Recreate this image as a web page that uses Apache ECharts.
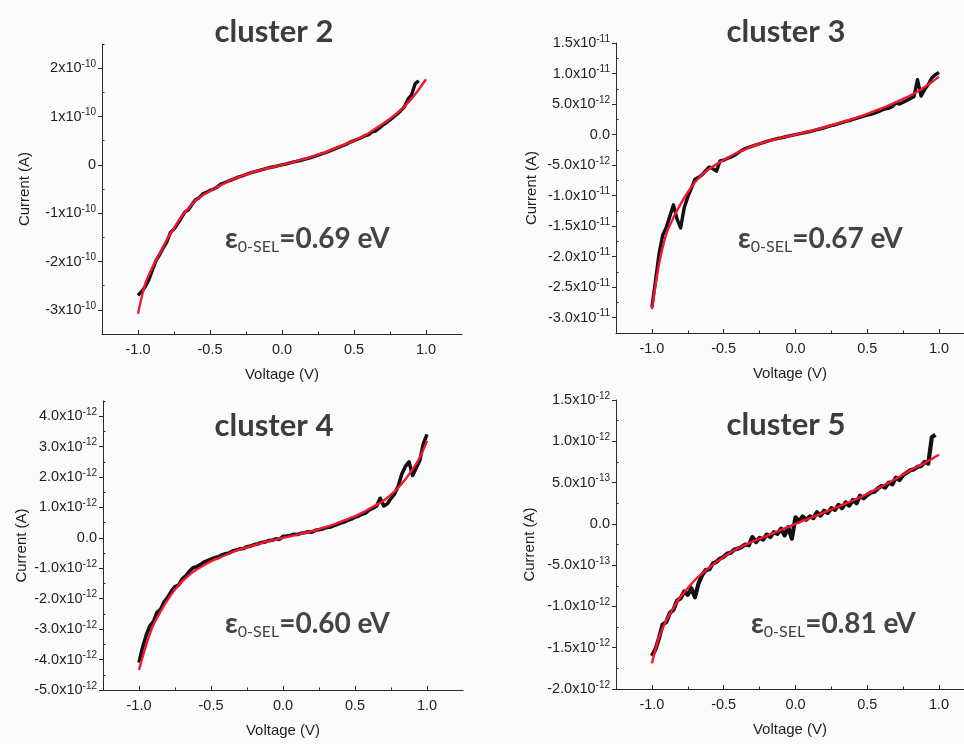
<!DOCTYPE html>
<html><head><meta charset="utf-8">
<script src="https://cdn.jsdelivr.net/npm/echarts@6/dist/echarts.min.js"></script>
<style>html,body{margin:0;padding:0;background:#fbfbfb}#c{width:964px;height:744px}</style>
</head><body><div id="c"></div>
<script>
// Voltage grid of the measured curves (V)
const V = [-1,-0.975,-0.95,-0.925,-0.9,-0.875,-0.85,-0.825,-0.8,-0.775,
-0.75,-0.725,-0.7,-0.675,-0.65,-0.625,-0.6,-0.575,-0.55,-0.525,
-0.5,-0.475,-0.45,-0.425,-0.4,-0.375,-0.35,-0.325,-0.3,-0.275,
-0.25,-0.225,-0.2,-0.175,-0.15,-0.125,-0.1,-0.075,-0.05,-0.025,
0,0.025,0.05,0.075,0.1,0.125,0.15,0.175,0.2,0.225,
0.25,0.275,0.3,0.325,0.35,0.375,0.4,0.425,0.45,0.475,
0.5,0.525,0.55,0.575,0.6,0.625,0.65,0.675,0.7,0.725,
0.75,0.775,0.8,0.825,0.85,0.875,0.9,0.925,0.95,0.975,1];
// Voltage grid of the fitted curves (V)
const FV = [-1,-0.95,-0.9,-0.85,-0.8,-0.75,-0.7,-0.65,-0.6,-0.55,
-0.5,-0.45,-0.4,-0.35,-0.3,-0.25,-0.2,-0.15,-0.1,-0.05,
0,0.05,0.1,0.15,0.2,0.25,0.3,0.35,0.4,0.45,
0.5,0.55,0.6,0.65,0.7,0.75,0.8,0.85,0.9,0.95,1];

// cluster 2 (x 1e-10 A)
const C2_UNIT = 1e-10;
const C2_MEAS = [-2.70,-2.62,-2.52,-2.38,-2.18,-1.98,-1.86,-1.72,-1.60,-1.40,
-1.33,-1.22,-1.10,-0.98,-0.93,-0.82,-0.72,-0.68,-0.60,-0.57,
-0.53,-0.50,-0.46,-0.40,-0.37,-0.34,-0.31,-0.28,-0.25,-0.23,
-0.20,-0.17,-0.15,-0.13,-0.11,-0.09,-0.07,-0.05,-0.035,-0.015,
0,0.015,0.035,0.055,0.07,0.09,0.11,0.13,0.15,0.175,
0.20,0.225,0.25,0.28,0.31,0.34,0.37,0.40,0.43,0.47,
0.50,0.53,0.56,0.60,0.62,0.68,0.70,0.76,0.82,0.87,
0.93,0.99,1.05,1.12,1.20,1.36,1.45,1.68,1.74,null,null];
const C2_FIT = [-3.08,-2.46,-2.12,-1.84,-1.55,-1.31,-1.08,-0.90,-0.74,-0.63,
-0.54,-0.46,-0.38,-0.31,-0.255,-0.20,-0.15,-0.11,-0.07,-0.035,
0,0.037,0.076,0.117,0.16,0.21,0.26,0.32,0.38,0.44,
0.50,0.57,0.655,0.75,0.85,0.955,1.07,1.21,1.37,1.56,1.77];

// cluster 3 (x 1e-12 A)
const C3_UNIT = 1e-12;
const C3_MEAS = [-28.3,-24.0,-19.5,-16.5,-15.2,-13.4,-11.5,-13.8,-15.3,-12.0,
-10.2,-8.8,-7.3,-7.0,-6.6,-5.9,-5.3,-5.6,-6.0,-4.3,
-4.2,-3.9,-3.7,-3.4,-3.0,-2.6,-2.3,-2.1,-1.9,-1.7,
-1.5,-1.3,-1.1,-0.95,-0.8,-0.65,-0.55,-0.4,-0.25,-0.12,
0,0.12,0.25,0.38,0.5,0.65,0.8,0.95,1.1,1.3,
1.45,1.6,1.8,1.95,2.15,2.3,2.5,2.65,2.85,3.0,
3.2,3.3,3.5,3.7,4.0,4.2,4.3,4.6,5.2,5.0,
5.3,5.6,5.9,6.2,9.0,6.3,7.4,8.2,9.3,9.8,10.2];
const C3_FIT = [-28.6,-21.2,-16.3,-13.6,-11.4,-9.45,-7.8,-6.6,-5.6,-4.85,
-4.15,-3.5,-2.9,-2.4,-1.9,-1.5,-1.1,-0.8,-0.55,-0.27,
0,0.27,0.55,0.87,1.2,1.53,1.86,2.2,2.57,2.97,
3.4,3.85,4.3,4.8,5.3,5.85,6.4,7.05,7.8,8.6,9.5];

// cluster 4 (x 1e-12 A)
const C4_UNIT = 1e-12;
const C4_MEAS = [-4.1,-3.6,-3.2,-2.9,-2.75,-2.45,-2.35,-2.1,-1.95,-1.75,
-1.6,-1.55,-1.35,-1.25,-1.1,-0.98,-0.95,-0.88,-0.80,-0.75,
-0.70,-0.65,-0.62,-0.56,-0.52,-0.50,-0.43,-0.40,-0.36,-0.35,
-0.29,-0.27,-0.22,-0.20,-0.15,-0.14,-0.09,-0.08,-0.03,-0.05,
0.05,0.06,0.08,0.12,0.11,0.15,0.17,0.20,0.19,0.25,
0.27,0.29,0.34,0.35,0.40,0.44,0.49,0.52,0.58,0.62,
0.68,0.72,0.78,0.82,0.92,0.98,1.05,1.30,1.05,1.12,
1.30,1.45,1.70,2.10,2.35,2.50,2.05,2.30,2.55,3.10,3.40];
const C4_FIT = [-4.34,-3.52,-2.86,-2.42,-2.03,-1.70,-1.43,-1.21,-1.04,-0.90,
-0.77,-0.67,-0.57,-0.47,-0.38,-0.31,-0.24,-0.17,-0.11,-0.055,
0,0.055,0.11,0.165,0.22,0.29,0.36,0.44,0.53,0.62,
0.71,0.83,0.96,1.09,1.23,1.42,1.65,1.93,2.25,2.64,3.19];

// cluster 5 (x 1e-13 A)
const C5_UNIT = 1e-13;
const C5_MEAS = [-16.0,-15.2,-13.8,-12.2,-11.9,-10.8,-10.4,-9.3,-9.0,-8.2,
-8.6,-7.8,-8.9,-7.2,-6.2,-5.6,-5.5,-4.8,-4.6,-4.2,
-4.0,-3.6,-3.5,-3.1,-3.0,-2.8,-2.5,-2.6,-1.6,-2.2,
-1.7,-1.9,-1.3,-1.6,-1.0,-1.2,-0.6,-1.4,-0.4,-1.8,
0.8,0.3,0.9,0.5,0.9,0.7,1.4,1.0,1.6,1.3,
1.9,1.7,2.3,1.9,2.6,2.2,2.9,2.5,3.4,3.1,
3.5,3.8,3.9,4.3,4.6,4.4,5.0,4.8,5.6,5.3,
5.9,6.2,6.5,6.6,6.9,7.0,7.5,7.3,10.5,10.8,null];
const C5_FIT = [-16.9,-13.7,-11.7,-10.2,-8.8,-7.8,-6.8,-6.0,-5.3,-4.6,
-4.0,-3.45,-2.96,-2.55,-2.15,-1.8,-1.46,-1.1,-0.73,-0.36,
0,0.35,0.69,1.03,1.38,1.74,2.1,2.46,2.83,3.23,
3.64,4.08,4.53,5.0,5.47,5.97,6.48,6.92,7.37,7.87,8.38];

// tick labels
const X_TICKS = [-1, -0.5, 0, 0.5, 1];
const X_MINOR = [-0.75, -0.25, 0.25, 0.75];
const P1_YTICKS = [-3e-10,-2e-10,-1e-10,0,1e-10,2e-10];
const P2_YTICKS = [-3e-11,-2.5e-11,-2e-11,-1.5e-11,-1e-11,-5e-12,0,5e-12,1e-11,1.5e-11];
const P3_YTICKS = [-5e-12,-4e-12,-3e-12,-2e-12,-1e-12,0,1e-12,2e-12,3e-12,4e-12];
const P4_YTICKS = [-2e-12,-1.5e-12,-1e-12,-5e-13,0,5e-13,1e-12,1.5e-12];

const TITLES = ['cluster 2','cluster 3','cluster 4','cluster 5'];
const EPS = ['=0.69 eV','=0.67 eV','=0.60 eV','=0.81 eV'];

function midpoints(a){const r=[];for(let i=0;i<a.length-1;i++)r.push((a[i]+a[i+1])/2);return r;}
function sci(v, dec){
  if (Math.abs(v) < 1e-25) return '{n|' + (dec ? '0.0' : '0') + '}';
  const s = v.toExponential(dec).split('e');
  return '{n|' + s[0] + 'x10}{u|' + parseInt(s[1], 10) + '}';
}
const FONT = 'Liberation Sans';
const RICH = {
  n: {fontSize: 14.5, color: '#1e1e1e', fontFamily: FONT, lineHeight: 18},
  u: {fontSize: 10, color: '#1e1e1e', fontFamily: FONT, lineHeight: 10, verticalAlign: 'top'}
};

const panels = [
  {grid:{left:102, top:44, width:360, height:290}, xmax:1.25, ymin:-3.5e-10, ymax:2.5e-10, yt:P1_YTICKS, ym:midpoints(P1_YTICKS).concat([2.5e-10]), dec:0, meas:C2_MEAS, fit:C2_FIT, unit:C2_UNIT, yGap:70, bw:3.4},
  {grid:{left:616, top:43, width:348, height:290}, xmax:1.174, ymin:-3.25e-11, ymax:1.5e-11, yt:P2_YTICKS, ym:midpoints(P2_YTICKS), dec:1, meas:C3_MEAS, fit:C3_FIT, unit:C3_UNIT, yGap:77, bw:3.4},
  {grid:{left:103, top:401, width:360, height:289}, xmax:1.25, ymin:-5e-12, ymax:4.5e-12, yt:P3_YTICKS, ym:midpoints(P3_YTICKS).concat([4.5e-12]), dec:1, meas:C4_MEAS, fit:C4_FIT, unit:C4_UNIT, yGap:74, bw:3.6},
  {grid:{left:616, top:400, width:348, height:289}, xmax:1.174, ymin:-2e-12, ymax:1.5e-12, yt:P4_YTICKS, ym:midpoints(P4_YTICKS), dec:1, meas:C5_MEAS, fit:C5_FIT, unit:C5_UNIT, yGap:79, bw:4.2}
];

const grid=[], xAxis=[], yAxis=[], series=[];
panels.forEach((p, k) => {
  grid.push(p.grid);
  const lineStyle = {color:'#2a2a2a', width:1};
  xAxis.push({
    type:'value', gridIndex:k, min:-1.25, max:p.xmax, position:'bottom',
    axisLine:{show:true, onZero:false, lineStyle},
    axisTick:{show:true, inside:true, length:4, customValues:X_TICKS, lineStyle},
    axisLabel:{customValues:X_TICKS, formatter:v=>v.toFixed(1), fontSize:14.5, color:'#1e1e1e', fontFamily:FONT, margin:8},
    splitLine:{show:false},
    name:'Voltage (V)', nameLocation:'middle', nameGap:33,
    nameTextStyle:{fontSize:15, color:'#1e1e1e', fontFamily:FONT}
  });
  xAxis.push({
    type:'value', gridIndex:k, min:-1.25, max:p.xmax, position:'bottom',
    axisLine:{show:false, onZero:false},
    axisTick:{show:true, inside:true, length:2.5, customValues:X_MINOR, lineStyle},
    axisLabel:{show:false}, splitLine:{show:false}
  });
  yAxis.push({
    type:'value', gridIndex:k, min:p.ymin, max:p.ymax, position:'left',
    axisLine:{show:true, onZero:false, lineStyle},
    axisTick:{show:true, inside:false, length:4, customValues:p.yt, lineStyle},
    axisLabel:{customValues:p.yt, formatter:v=>sci(v,p.dec), rich:RICH, margin:6},
    splitLine:{show:false},
    name:'Current (A)', nameLocation:'middle', nameGap:p.yGap,
    nameTextStyle:{fontSize:15, color:'#1e1e1e', fontFamily:FONT}
  });
  yAxis.push({
    type:'value', gridIndex:k, min:p.ymin, max:p.ymax, position:'left',
    axisLine:{show:false, onZero:false},
    axisTick:{show:true, inside:true, length:2.5, customValues:p.ym, lineStyle},
    axisLabel:{show:false}, splitLine:{show:false}
  });
  const meas = [];
  V.forEach((v,i)=>{ if (p.meas[i] !== null) meas.push([v, p.meas[i]*p.unit]); });
  const fit = FV.map((v,i)=>[v, p.fit[i]*p.unit]);
  series.push({type:'line', xAxisIndex:2*k, yAxisIndex:2*k, data:meas, showSymbol:false, symbol:'none',
    lineStyle:{color:'#111', width:p.bw, join:'round'}, z:2, silent:true, animation:false});
  series.push({type:'line', xAxisIndex:2*k, yAxisIndex:2*k, data:fit, showSymbol:false, symbol:'none', smooth:0.3,
    lineStyle:{color:'#f5162f', width:2.4}, z:3, silent:true, animation:false});
});

const titlePos = [[274,32],[786,32],[274,426],[786,425]];
const epsPos = [[225,239],[738,239],[225,624],[751,624]];
const graphic = [];
TITLES.forEach((t,k)=>{
  graphic.push({type:'text', silent:true, style:{text:t, x:titlePos[k][0], y:titlePos[k][1], align:'center', verticalAlign:'middle',
    font:'bold 31px Lato', fill:'#3c3c3c'}});
  graphic.push({type:'text', silent:true, style:{text:'{e|ε}{s|0-SEL}{v|' + EPS[k] + '}', x:epsPos[k][0], y:epsPos[k][1], align:'left', verticalAlign:'middle',
    rich:{
      e:{fontSize:28, fontWeight:'bold', fontFamily:'Lato', fill:'#444', lineHeight:32},
      s:{fontSize:16, fontWeight:'normal', fontFamily:'Lato', fill:'#444', lineHeight:21, verticalAlign:'bottom'},
      v:{fontSize:28, fontWeight:'bold', fontFamily:'Lato', fill:'#444', lineHeight:32}
    }}});
});

const chart = echarts.init(document.getElementById('c'), null, {renderer:'canvas'});
chart.setOption({backgroundColor:'#fbfbfb', animation:false, grid, xAxis, yAxis, series, graphic});
</script></body></html>
